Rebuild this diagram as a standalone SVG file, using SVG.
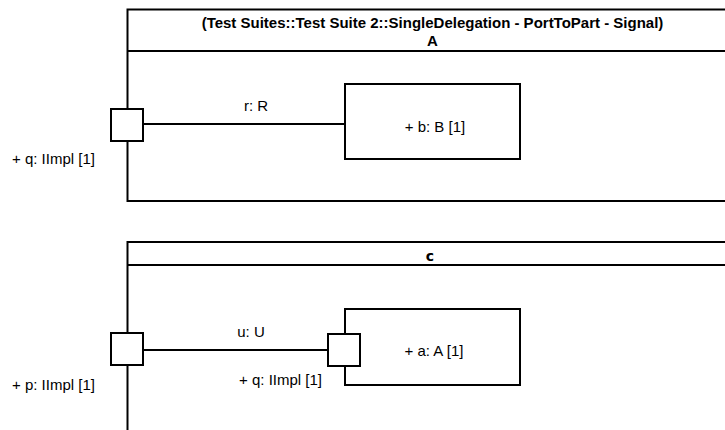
<svg xmlns="http://www.w3.org/2000/svg" width="725" height="430" viewBox="0 0 725 430">
<style>
.ln{fill:none;stroke:#000;stroke-width:2}
.box{fill:#fff;stroke:#000;stroke-width:2}
.t{font-family:"Liberation Sans",Arial,sans-serif;font-size:15px;fill:#000}
.tb{font-family:"Liberation Sans",Arial,sans-serif;font-size:15px;font-weight:bold;fill:#000}
.c{text-anchor:middle}
</style>
<rect width="725" height="430" fill="#fff"/>
<g id="frameA">
<rect class="ln" x="127.5" y="9.5" width="640" height="191.5"/>
<line class="ln" x1="127.5" y1="51" x2="740" y2="51"/>
<text class="tb c" x="432.5" y="28">(Test Suites::Test Suite 2::SingleDelegation - PortToPart - Signal)</text>
<text class="tb c" x="432.5" y="46">A</text>
</g>
<g id="frameC">
<path class="ln" d="M127.5 435 V242 H740"/>
<line class="ln" x1="127.5" y1="265" x2="740" y2="265"/>
<text class="c" x="430" y="261" style="font-family:'DejaVu Sans',sans-serif;font-size:14px;font-weight:bold">c</text>
</g>
<g id="connectors">
<line class="ln" x1="143" y1="124" x2="345" y2="124"/>
<line class="ln" x1="143" y1="350" x2="328" y2="350"/>
<text class="t c" x="256" y="111">r: R</text>
<text class="t c" x="251" y="337">u: U</text>
</g>
<g id="portQ">
<rect class="box" x="111" y="109" width="32" height="32"/>
<text class="t" x="12" y="164">+ q: IImpl [1]</text>
</g>
<g id="partB">
<rect class="box" x="345" y="84" width="175" height="75"/>
<text class="t c" x="435" y="132">+ b: B [1]</text>
</g>
<g id="portP">
<rect class="box" x="111" y="333" width="32" height="32"/>
<text class="t" x="12" y="390">+ p: IImpl [1]</text>
</g>
<g id="partA">
<rect class="box" x="345" y="309" width="175" height="76"/>
<text class="t c" x="434" y="356">+ a: A [1]</text>
</g>
<g id="portQa">
<rect class="box" x="328" y="334" width="32" height="32"/>
<text class="t" x="322" y="385" text-anchor="end">+ q: IImpl [1]</text>
</g>
</svg>
